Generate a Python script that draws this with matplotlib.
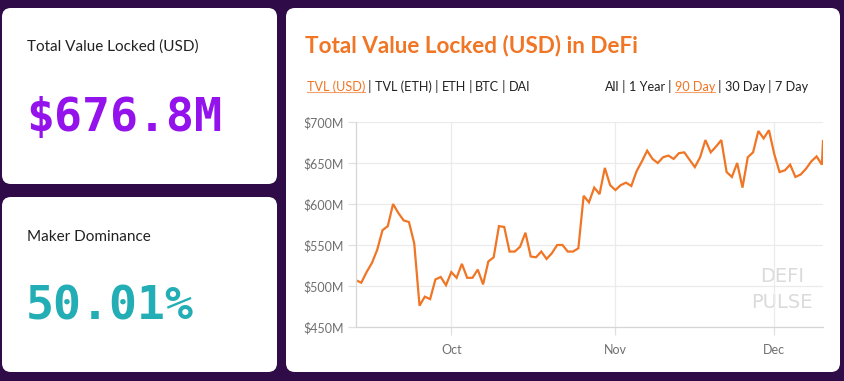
import pandas as pd
import numpy as np
import matplotlib
matplotlib.use("Agg")
import matplotlib.pyplot as plt
import matplotlib.dates as mdates
from matplotlib.patches import FancyBboxPatch
from matplotlib.ticker import FuncFormatter

# ---- data ----
tvl_label = "Total Value Locked (USD)"
tvl_value = "$676.8M"
dom_label = "Maker Dominance"
dom_value = "50.01%"
chart_title = "Total Value Locked (USD) in DeFi"
metric_tabs = ["TVL (USD)", "TVL (ETH)", "ETH", "BTC", "DAI"]
range_tabs = ["All", "1 Year", "90 Day", "30 Day", "7 Day"]
active_metric = "TVL (USD)"
active_range = "90 Day"

start_date = "2019-09-13"
# daily TVL in $M, Sep 13 -> Dec 10
tvl_daily = [507, 504, 517, 528, 544, 568, 573, 600, 589, 580, 578, 552, 476, 487, 484, 508, 511, 501,
             517, 510, 527, 510, 510, 520, 502, 530, 535, 573, 572, 542, 542, 548, 565, 536, 535, 542,
             533, 540, 550, 550, 542, 542, 546, 610, 602, 620, 612, 644, 623,
             617, 623, 626, 622, 640, 652, 665, 655, 650, 657, 659, 655, 662, 663, 654, 645, 657, 678,
             663, 670, 678, 639, 633, 650, 620, 657, 663, 689, 680, 690,
             661, 639, 641, 648, 633, 636, 643, 652, 658, 648]
now_time = "2019-12-10 05:00"
now_value = 676.8

dates = list(pd.date_range(start_date, periods=len(tvl_daily), freq="D")) + [pd.Timestamp(now_time)]
values = tvl_daily + [now_value]

# ---- colours ----
bg_col = "#2f0c48"
orange = "#f07524"
purple = "#9412ec"
teal = "#22aeb4"
dark = "#222222"
grey = "#707070"

W, H = 845, 381
fig = plt.figure(figsize=(W / 100, H / 100), dpi=100)
fig.patch.set_facecolor(bg_col)

# background axes in pixel coordinates
bg = fig.add_axes([0, 0, 1, 1])
bg.set_xlim(0, W)
bg.set_ylim(H, 0)
bg.axis("off")
bg.patch.set_alpha(0)

def card(x0, y0, x1, y1):
    bg.add_patch(FancyBboxPatch((x0, y0), x1 - x0, y1 - y0,
                                boxstyle="round,pad=0,rounding_size=9",
                                facecolor="white", edgecolor="none"))

card(2, 8, 277, 184)
card(2, 197, 277, 372)
card(286, 8, 840, 372)

font = "Lato"
mono = "DejaVu Sans Mono"

bg.text(27, 47, tvl_label, fontsize=11, color=dark, family=font, va="center", ha="left")
bg.text(26, 118, tvl_value, fontsize=33.5, color=purple, family=mono, fontweight="bold",
        va="center", ha="left")
bg.text(27, 237, dom_label, fontsize=11, color=dark, family=font, va="center", ha="left")
bg.text(26, 307, dom_value, fontsize=33.5, color=teal, family=mono, fontweight="bold",
        va="center", ha="left")

bg.text(305, 46, chart_title, fontsize=16.2, color=orange, family=font, fontweight="bold",
        va="center", ha="left")

# tab rows: "a | b | c" with the active one in orange
tab_size = 9.1

def tab_row(x, y, items, active):
    pieces = []
    prev = None
    for i, it in enumerate(items):
        if i > 0:
            prev = bg.annotate(" | ", xy=(1, 0), xycoords=prev, va="bottom", ha="left",
                               fontsize=tab_size, color=dark, family=font)
        col = orange if it == active else dark
        if prev is None:
            t = bg.text(x, y, it, fontsize=tab_size, color=col, family=font,
                        va="center", ha="left")
        else:
            t = bg.annotate(it, xy=(1, 0), xycoords=prev, va="bottom", ha="left",
                            fontsize=tab_size, color=col, family=font)
        if it == active:
            pieces.append(t)
        prev = t
    return pieces

underlined = tab_row(307, 87, metric_tabs, active_metric)
underlined += tab_row(605, 87, range_tabs, active_range)

bg.text(782, 277, "DEFI", fontsize=14, color="#dadada", family="DejaVu Sans",
        ha="center", va="center")
bg.text(782, 302, "PULSE", fontsize=14, color="#dadada", family="DejaVu Sans",
        ha="center", va="center")

# ---- line chart ----
ax = fig.add_axes([356 / W, 1 - 327 / H, (823 - 356) / W, (327 - 122) / H])
ax.set_facecolor("none")
ax.plot(dates, values, color=orange, lw=1.6, solid_joinstyle="miter")
ax.set_ylim(450, 700)
ax.set_xlim(dates[0], dates[-1])
ax.set_yticks(np.arange(450, 701, 50))
ax.yaxis.set_major_formatter(FuncFormatter(lambda v, p: f"${v:.0f}M"))
ax.xaxis.set_major_locator(mdates.MonthLocator(bymonthday=1))
ax.xaxis.set_major_formatter(mdates.DateFormatter("%b"))
ax.grid(True, color="#ebebeb", lw=0.9)
ax.set_axisbelow(True)
for s in ["top", "right"]:
    ax.spines[s].set_visible(False)
for s in ["left", "bottom"]:
    ax.spines[s].set_color("#d6d6d6")
    ax.spines[s].set_linewidth(0.9)
ax.tick_params(axis="both", colors="#e0e0e0", labelcolor=grey, labelsize=9, length=6, width=0.9)
ax.tick_params(axis="x", pad=6)
ax.tick_params(axis="y", pad=3)
for lab in ax.get_xticklabels() + ax.get_yticklabels():
    lab.set_family(font)

# underline active tabs
fig.canvas.draw()
r = fig.canvas.get_renderer()
inv = bg.transData.inverted()
for t in underlined:
    bb = t.get_window_extent(r)
    (xa, ya), (xb, yb) = inv.transform([(bb.x0, bb.y0), (bb.x1, bb.y0)])
    bg.plot([xa, xb], [ya - 1, yb - 1], color="#f4a36c", lw=0.8)

fig.savefig("out.png", dpi=100, facecolor=fig.get_facecolor())
